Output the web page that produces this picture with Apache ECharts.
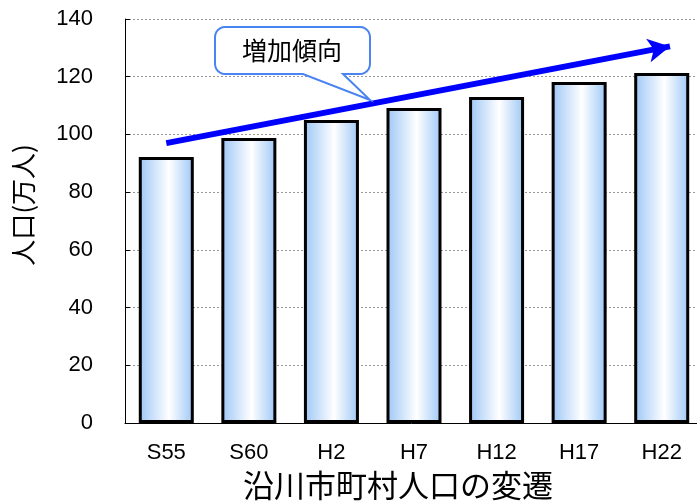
<!DOCTYPE html>
<html>
<head>
<meta charset="utf-8">
<script src="https://cdn.jsdelivr.net/npm/echarts@6/dist/echarts.min.js"></script>
<style>
  html, body { margin: 0; padding: 0; background: #fff; }
  #chart { width: 697px; height: 501px; }
</style>
</head>
<body>
<div id="chart"></div>
<script>
// 年次と人口（万人）
const years = ['S55', 'S60', 'H2', 'H7', 'H12', 'H17', 'H22']
const population = [92.2, 98.8, 105, 109.2, 113, 118.2, 121.3]
// トレンド矢印（カテゴリ位置, 値）
const trendStart = [0, 97]
const trendEnd = [6.1, 130.5]

const font = '"Noto Sans CJK JP", sans-serif'
const numFont = '"Liberation Sans", Arial, sans-serif'
const chart = echarts.init(document.getElementById('chart'))

// 吹き出しの外形（角丸＋しっぽ）
function calloutPoints(x0, y0, x1, y1, r, tail) {
  const pts = []
  const arc = (cx, cy, a0) => {
    for (let i = 0; i <= 6; i++) {
      const a = a0 + (Math.PI / 2) * (i / 6)
      pts.push([cx + r * Math.cos(a), cy + r * Math.sin(a)])
    }
  }
  arc(x0 + r, y0 + r, Math.PI)
  arc(x1 - r, y0 + r, -Math.PI / 2)
  arc(x1 - r, y1 - r, 0)
  pts.push([tail[0], y1], tail[1], [tail[2], y1])
  arc(x0 + r, y1 - r, Math.PI / 2)
  return pts
}

const option = {
  animation: false,
  backgroundColor: '#fff',
  textStyle: { fontFamily: font },
  title: {
    text: '沿川市町村人口の変遷',
    left: 238,
    top: 465,
    textStyle: { fontSize: 31, fontWeight: 'normal', color: '#000', fontFamily: font }
  },
  grid: { left: 125, width: 578, top: 19, bottom: 78, outerBoundsMode: 'none' },
  xAxis: [
    {
      type: 'category',
      data: years,
      axisLine: { lineStyle: { color: '#000', width: 1 } },
      axisTick: { inside: true, length: 5, lineStyle: { color: '#000' } },
      axisLabel: { color: '#000', fontSize: 22, margin: 19, fontFamily: numFont }
    },
    // 矢印用の補助軸（非表示）
    { type: 'value', min: -0.5, max: 6.5, show: false }
  ],
  yAxis: {
    type: 'value',
    min: 0,
    max: 140,
    interval: 20,
    name: '人口(万人)',
    nameLocation: 'middle',
    nameRotate: 90,
    nameGap: 89,
    nameTextStyle: { color: '#000', fontSize: 26, fontFamily: font, padding: [0, 0, 0, 32] },
    axisLine: { show: true, onZero: false, lineStyle: { color: '#000', width: 1 } },
    axisTick: { show: true, inside: true, length: 5, lineStyle: { color: '#000' } },
    axisLabel: { color: '#000', fontSize: 22, margin: 32, fontFamily: numFont },
    splitLine: { lineStyle: { color: '#999', type: [2, 2], width: 1 } }
  },
  series: [
    {
      type: 'bar',
      data: population,
      barWidth: 55,
      itemStyle: {
        borderColor: '#000',
        borderWidth: 3,
        color: new echarts.graphic.LinearGradient(0, 0, 1, 0, [
          { offset: 0, color: '#9cc6f6' },
          { offset: 0.55, color: '#ffffff' },
          { offset: 1, color: '#9cc6f6' }
        ])
      }
    },
    {
      type: 'line',
      xAxisIndex: 1,
      data: [],
      markLine: {
        silent: true,
        symbol: ['none', 'arrow'],
        symbolSize: [18, 22],
        label: { show: false },
        lineStyle: { color: '#0000ff', width: 6, type: 'solid' },
        data: [[{ coord: trendStart }, { coord: trendEnd }]]
      }
    }
  ],
  graphic: [
    {
      type: 'polygon',
      shape: { points: calloutPoints(215, 27, 370, 74, 10, [343, [370, 100], 303]) },
      style: { fill: '#fff', stroke: '#4a84f2', lineWidth: 2 },
      z: 100
    },
    {
      type: 'text',
      x: 292,
      y: 50,
      style: {
        text: '増加傾向',
        fill: '#000',
        font: '25px ' + font,
        align: 'center',
        verticalAlign: 'middle'
      },
      z: 101
    }
  ]
}
chart.setOption(option)
</script>
</body>
</html>
